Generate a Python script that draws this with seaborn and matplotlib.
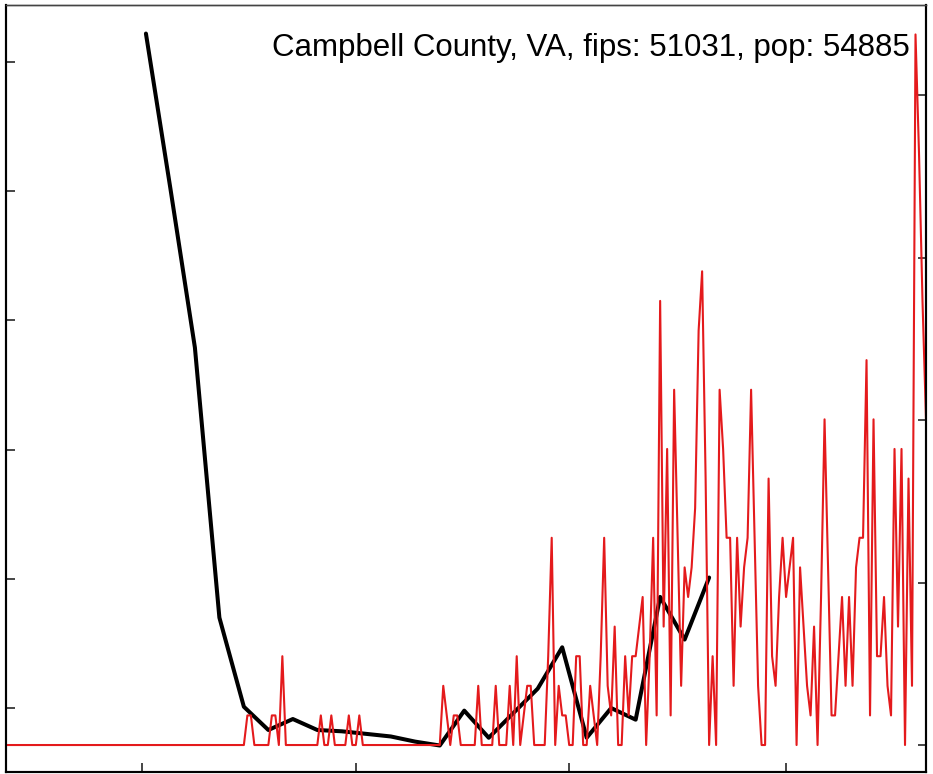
import numpy as np
import pandas as pd
import matplotlib
matplotlib.use("Agg")
import matplotlib.pyplot as plt
import matplotlib.dates as mdates
from matplotlib.ticker import MultipleLocator
import seaborn as sns

# county info
county = "Campbell County, VA"
fips = 51031
pop = 54885

# daily new cases (counts), starting 2020-01-22
daily_start = "2020-01-22"
daily_cases = [
    0, 0, 0, 0, 0, 0, 0, 0, 0, 0, 0, 0, 0, 0, 0, 0, 0, 0, 0, 0,
    0, 0, 0, 0, 0, 0, 0, 0, 0, 0, 0, 0, 0, 0, 0, 0, 0, 0, 0, 0,
    0, 0, 0, 0, 0, 0, 0, 0, 0, 0, 0, 0, 0, 0, 0, 0, 0, 0, 0, 0,
    0, 0, 0, 0, 0, 0, 0, 0, 0, 1, 1, 0, 0, 0, 0, 0, 1, 1, 0, 3,
    0, 0, 0, 0, 0, 0, 0, 0, 0, 0, 1, 0, 0, 1, 0, 0, 0, 0, 1, 0,
    0, 1, 0, 0, 0, 0, 0, 0, 0, 0, 0, 0, 0, 0, 0, 0, 0, 0, 0, 0,
    0, 0, 0, 0, 0, 2, 1, 0, 1, 1, 0, 0, 0, 0, 0, 2, 0, 0, 0, 0,
    2, 0, 0, 0, 2, 0, 3, 0, 1, 2, 2, 0, 0, 0, 0, 3, 7, 0, 2, 1,
    1, 0, 0, 3, 3, 0, 0, 2, 1, 0, 3, 7, 2, 1, 4, 0, 0, 3, 1, 3,
    3, 4, 5, 0, 3, 7, 1, 15, 4, 10, 1, 12, 7, 2, 6, 5, 6, 8, 14, 16,
    9, 0, 3, 0, 12, 10, 7, 7, 2, 7, 4, 6, 7, 12, 7, 2, 0, 0, 9, 3,
    2, 5, 7, 5, 6, 7, 0, 6, 4, 2, 1, 4, 0, 5, 11, 6, 1, 1, 3, 5,
    2, 5, 2, 6, 7, 7, 13, 1, 11, 3, 3, 5, 2, 1, 10, 4, 10, 0, 9, 2,
    24, 20, 15, 11,
]

# weekly series (left axis), starting 2020-03-02
weekly_start = "2020-03-02"
weekly_vals = [5.22, 4.02, 2.79, 0.70, 0.01, -0.17, -0.085, -0.17, -0.18, -0.20,
               -0.22, -0.26, -0.29, -0.02, -0.23, -0.04, 0.15, 0.47, -0.23, 0.0,
               -0.09, 0.86, 0.53, 1.01]

daily = pd.DataFrame({
    "date": pd.date_range(daily_start, periods=len(daily_cases), freq="D"),
    "per100k": np.array(daily_cases) * 1e5 / pop,
})
weekly = pd.DataFrame({
    "date": pd.date_range(weekly_start, periods=len(weekly_vals), freq="7D"),
    "val": weekly_vals,
})

sns.set_style("white")
plt.rcParams['font.family'] = ['Liberation Sans', 'DejaVu Sans']

fig = plt.figure(figsize=(9.33, 7.74), dpi=100)
ax = fig.add_axes([6/933, 2/774, 920/933, 767/774])
ax2 = ax.twinx()

sns.lineplot(data=weekly, x="date", y="val", color="black", lw=2.9, ax=ax)
sns.lineplot(data=daily, x="date", y="per100k", color="#e41a1c", lw=1.5, ax=ax2)

ax.set_xlim(daily["date"].iloc[0], daily["date"].iloc[-1])
ax.set_ylim(-0.495, 5.441)
ax2.set_ylim(-1.66, 45.54)

ax.xaxis.set_major_locator(mdates.MonthLocator(bymonth=[3, 5, 7, 9]))
ax.yaxis.set_major_locator(MultipleLocator(1))
ax2.yaxis.set_major_locator(MultipleLocator(10))

ax.tick_params(axis="both", direction="in", length=6.5, width=1.2,
               labelleft=False, labelbottom=False, left=True, bottom=True)
ax2.tick_params(axis="y", direction="in", length=5.5, width=1.2,
                labelright=False, right=True)

for a in (ax, ax2):
    a.set(xlabel="", ylabel="")
    for s in a.spines.values():
        s.set_color("black")
        s.set_linewidth(1.5)
    a.spines["top"].set_linewidth(1.0)
    a.spines["top"].set_color("#444444")

ax.text(0.9826, 0.9335, f"{county}, fips: {fips}, pop: {pop}",
        transform=ax.transAxes, ha="right", va="baseline", fontsize=22.5,
        color="black")

fig.savefig("out.png", dpi=100)
